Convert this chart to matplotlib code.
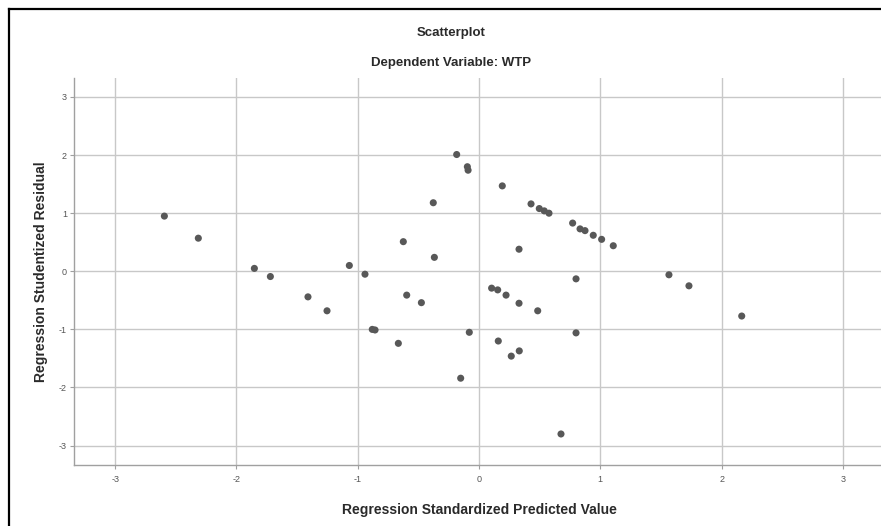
import matplotlib
matplotlib.use("Agg")
import matplotlib.pyplot as plt
from matplotlib.lines import Line2D

# values
pred_std = [-2.594, -2.314, -1.852, -1.720, -1.410, -1.253, -1.069, -0.940,
            -0.880, -0.857, -0.665, -0.624, -0.596, -0.475, -0.377, -0.368,
            -0.184, -0.151, -0.096, -0.090, -0.080, 0.104, 0.154, 0.159,
            0.192, 0.223, 0.266, 0.330, 0.330, 0.332, 0.429, 0.484,
            0.497, 0.538, 0.577, 0.676, 0.772, 0.800, 0.800, 0.833,
            0.874, 0.942, 1.011, 1.107, 1.566, 1.731, 2.166]
resid_stud = [0.95, 0.57, 0.05, -0.09, -0.44, -0.68, 0.10, -0.05,
              -1.00, -1.01, -1.24, 0.51, -0.41, -0.54, 1.18, 0.24,
              2.01, -1.84, 1.80, 1.74, -1.05, -0.29, -0.32, -1.20,
              1.47, -0.41, -1.46, 0.38, -0.55, -1.37, 1.16, -0.68,
              1.08, 1.04, 1.00, -2.80, 0.83, -0.13, -1.06, 0.73,
              0.70, 0.62, 0.55, 0.44, -0.06, -0.25, -0.77]
ticks = [-3, -2, -1, 0, 1, 2, 3]

plt.rcParams['font.family'] = ['Liberation Sans', 'DejaVu Sans']
plt.rcParams['axes.unicode_minus'] = False

W, H = 881, 526
fig = plt.figure(figsize=(W / 100, H / 100), dpi=100)
ax = fig.add_axes([74 / W, (H - 465) / H, (884 - 74) / W, (465 - 78) / H])

ax.scatter(pred_std, resid_stud, s=26, color='#585858', edgecolors='none', zorder=3)

ax.set_xlim(-3.339, 3.339)
ax.set_ylim(-3.334, 3.327)
ax.set_xticks(ticks)
ax.set_yticks(ticks)
ax.grid(True, color='#c8c8c8', linewidth=1.0)
ax.set_axisbelow(True)

for side in ['top', 'right']:
    ax.spines[side].set_visible(False)
for side in ['left', 'bottom']:
    ax.spines[side].set_color('#a0a0a0')
    ax.spines[side].set_linewidth(1.0)

ax.tick_params(axis='both', length=3, color='#a0a0a0', labelsize=6.5,
               labelcolor='#555555')
ax.tick_params(axis='x', pad=4)
ax.tick_params(axis='y', pad=2)

ax.set_xlabel('Regression Standardized Predicted Value', fontsize=10,
              fontweight='bold', color='#2a2a2a', labelpad=14)
ax.set_ylabel('Regression Studentized Residual', fontsize=10,
              fontweight='bold', color='#2a2a2a', labelpad=8)

fig.text(451 / W, 1 - 33 / H, 'Scatterplot', ha='center', va='center',
         fontsize=9.5, fontweight='bold', color='#2a2a2a')
fig.text(451 / W, 1 - 63 / H, 'Dependent Variable: WTP', ha='center', va='center',
         fontsize=9.5, fontweight='bold', color='#2a2a2a')

# outer frame of the SPSS output (top and left edges visible)
fig.add_artist(Line2D([9 / W, 1], [1 - 9 / H, 1 - 9 / H], color='black', linewidth=1.6))
fig.add_artist(Line2D([9 / W, 9 / W], [0, 1 - 9 / H], color='black', linewidth=1.6))

fig.savefig('out.png', dpi=100)
